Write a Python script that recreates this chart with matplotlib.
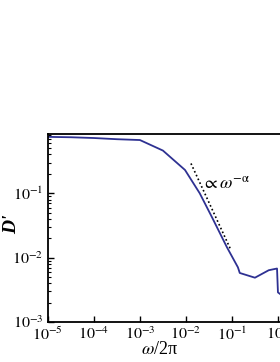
import matplotlib
matplotlib.use("Agg")
import matplotlib.pyplot as plt
import numpy as np

plt.rcParams['font.family'] = ['Liberation Serif', 'DejaVu Serif']
plt.rcParams['mathtext.fontset'] = 'stix'

# Data
log_freq = [-5.0, -4.5, -4.0, -3.5, -3.0, -2.5, -2.02, -1.70, -1.43, -1.11,
            -0.87, -0.83, -0.5, -0.2, -0.02, 0.0, 0.3]
d_prime = [0.75, 0.74, 0.72, 0.69, 0.67, 0.46, 0.23, 0.10, 0.042, 0.0146,
           0.0071, 0.0058, 0.0049, 0.0064, 0.0068, 0.0029, 0.002]
guide_logx = [-1.89, -1.04]
guide_y = [0.29, 0.014]

freq = np.power(10.0, log_freq)

fig = plt.figure(figsize=(2.8, 3.62), dpi=100)
ax = fig.add_axes([0.171, 0.110, 0.986, 0.519])

ax.plot(freq, d_prime, color='#2e3192', lw=1.3)
ax.plot(np.power(10.0, guide_logx), guide_y, color='black', ls=(0, (1, 1.5)),
        lw=1.2)
ax.text(10 ** -1.64, 0.14, r'$\propto\omega^{-\mathrm{\alpha}}$', fontsize=13,
        va='center')

ax.set_xscale('log')
ax.set_yscale('log')
ax.set_xlim(1e-5, 1e1)
ax.set_ylim(1e-3, 10 ** -0.085)
ax.set_xticks([1e-5, 1e-4, 1e-3, 1e-2, 1e-1, 1e0, 1e1])
ax.set_xticklabels([r'$10^{-5}$', r'$10^{-4}$', r'$10^{-3}$', r'$10^{-2}$',
                    r'$10^{-1}$', r'$10^{0}$', r'$10^{1}$'])
ax.set_yticks([1e-3, 1e-2, 1e-1])
ax.set_yticklabels([r'$10^{-3}$', r'$10^{-2}$', r'$10^{-1}$'])
ax.tick_params(which='both', direction='in', labelsize=11.5, pad=3)
ax.tick_params(which='major', length=4, width=1)
ax.tick_params(which='minor', length=2, width=0.8)
for s in ax.spines.values():
    s.set_linewidth(1.3)

ax.set_xlabel(r'$\omega$/2π', fontsize=13)
ax.xaxis.set_label_coords(0.406, -0.102)
ax.set_ylabel("D'", fontsize=14, fontweight='bold', style='italic')
ax.yaxis.set_label_coords(-0.10, 0.52)

fig.savefig("out.png", dpi=100)
